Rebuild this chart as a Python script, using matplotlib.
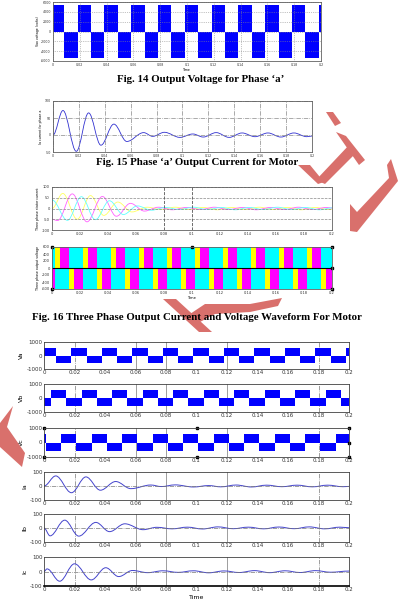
import matplotlib
matplotlib.use('Agg')
import matplotlib.pyplot as plt
from matplotlib.path import Path
from matplotlib.patches import PathPatch, Polygon

# ---- data ----
time_ticks = [0, 0.02, 0.04, 0.06, 0.08, 0.1, 0.12, 0.14, 0.16, 0.18, 0.2]
time_labels = ['0', '0.02', '0.04', '0.06', '0.08', '0.1', '0.12', '0.14', '0.16', '0.18', '0.2']

# Fig 14: phase 'a' voltage, switching instants (starts positive)
f14_edges = [0.0084, 0.0184, 0.0284, 0.0384, 0.0484, 0.0584, 0.0684, 0.0784, 0.0884, 0.0984,
             0.1084, 0.1184, 0.1284, 0.1384, 0.1484, 0.1584, 0.1684, 0.1784, 0.1884, 0.1984]
f14_level = 5400
f14_yticks = [-6000, -4000, -2000, 0, 2000, 4000, 6000]

# Fig 15 / Ia: extrema of the phase current
ia_t = [0, 0.0077, 0.018, 0.0275, 0.037, 0.047, 0.057, 0.070, 0.077, 0.086, 0.098,
        0.108, 0.116, 0.126, 0.136, 0.146, 0.156, 0.166, 0.176, 0.186, 0.196, 0.2]
ia_v = [0, 72, -48, 65, -30, 32, -19, 7, -4, 8, -7, 3, -6, 7, -7, 6, -5, 6, -6, 6, -5, -3]
ib_t = [0, 0.004, 0.0136, 0.0228, 0.034, 0.043, 0.053, 0.065, 0.074, 0.084, 0.094,
        0.104, 0.114, 0.124, 0.134, 0.144, 0.154, 0.164, 0.174, 0.184, 0.194, 0.2]
ib_v = [0, -56, 56, -58, 40, -26, 30, -12, 5, -6, 6, -7, 8, -5, 6, -6, 7, -5, 8, -6, 6, 2]
ic_t = [0, 0.002, 0.0103, 0.020, 0.031, 0.0405, 0.049, 0.058, 0.068, 0.078, 0.088,
        0.098, 0.108, 0.118, 0.128, 0.138, 0.148, 0.158, 0.168, 0.178, 0.188, 0.2]
ic_v = [0, 18, -67, 53, -58, 26, -35, 7, -8, 5, -6, 5, -9, 4, -7, 6, -8, 5, -7, 6, -5, 3]

# Fig 16: three phase currents (extrema)
cur_y_t = [0, 0.0077, 0.018, 0.0275, 0.037, 0.047, 0.057, 0.068, 0.078, 0.088, 0.098,
           0.108, 0.118, 0.128, 0.138, 0.148, 0.158, 0.168, 0.178, 0.188, 0.198, 0.2]
cur_y_v = [0, 70, -50, 60, -32, 30, -16, 6, -5, 6, -5, 5, -6, 5, -5, 6, -5, 5, -6, 5, -5, -3]
cur_m_t = [0, 0.004, 0.0145, 0.025, 0.036, 0.046, 0.056, 0.066, 0.076, 0.086, 0.096,
           0.106, 0.116, 0.126, 0.136, 0.146, 0.156, 0.166, 0.176, 0.186, 0.196, 0.2]
cur_m_v = [-50, -56, 68, -62, 56, -36, 24, -12, 6, -6, 5, -5, 6, -5, 5, -6, 5, -5, 6, -5, 5, 2]
cur_c_t = [0, 0.011, 0.021, 0.031, 0.041, 0.051, 0.061, 0.071, 0.081, 0.091, 0.101,
           0.111, 0.121, 0.131, 0.141, 0.151, 0.161, 0.171, 0.181, 0.191, 0.2]
cur_c_v = [40, -55, 55, -52, 36, -28, 12, -8, 5, -5, 6, -5, 5, -6, 5, -5, 6, -5, 5, -6, 3]

# Fig 16: three phase voltages, switching instants
v16_y_edges = [0.0087, 0.0187, 0.0287, 0.0387, 0.0487, 0.0587, 0.0687, 0.0787, 0.0887, 0.0987,
               0.1087, 0.1187, 0.1287, 0.1387, 0.1487, 0.1587, 0.1687, 0.1787, 0.1887, 0.1987]
v16_m_edges = [0.0054, 0.0154, 0.0254, 0.0354, 0.0454, 0.0554, 0.0654, 0.0754, 0.0854, 0.0954,
               0.1054, 0.1154, 0.1254, 0.1354, 0.1454, 0.1554, 0.1654, 0.1754, 0.1854, 0.1954]
v16_c_edges = [0.002, 0.012, 0.022, 0.032, 0.042, 0.052, 0.062, 0.072, 0.082, 0.092,
               0.102, 0.112, 0.122, 0.132, 0.142, 0.152, 0.162, 0.172, 0.182, 0.192]
v16_level = 590
v16_yticks = [-600, -400, -200, 0, 200, 400, 600]

# bottom figure: Va, Vb, Vc switching instants
va_edges = [0.008, 0.018, 0.028, 0.038, 0.048, 0.058, 0.068, 0.078, 0.088, 0.098,
            0.108, 0.118, 0.128, 0.138, 0.148, 0.158, 0.168, 0.178, 0.188, 0.198]
vb_edges = [0.0047, 0.0147, 0.0247, 0.0347, 0.0447, 0.0547, 0.0647, 0.0747, 0.0847, 0.0947,
            0.1047, 0.1147, 0.1247, 0.1347, 0.1447, 0.1547, 0.1647, 0.1747, 0.1847, 0.1947]
vc_edges = [0.0013, 0.0113, 0.0213, 0.0313, 0.0413, 0.0513, 0.0613, 0.0713, 0.0813, 0.0913,
            0.1013, 0.1113, 0.1213, 0.1313, 0.1413, 0.1513, 0.1613, 0.1713, 0.1813, 0.1913]
vabc_level = 560

W, H = 402, 616
fig = plt.figure(figsize=(W / 100, H / 100), dpi=100)


def add_ax(x0, y0, x1, y1):
    return fig.add_axes([x0 / W, 1 - y1 / H, (x1 - x0) / W, (y1 - y0) / H])


def step_fill(ax, first_sign, edges, level, color):
    t = [0.0] + list(edges) + [0.2]
    v = []
    s = first_sign
    for _ in range(len(edges) + 1):
        v.append(s * level)
        s = -s
    v.append(v[-1])
    ax.fill_between(t, v, 0, step='post', color=color, lw=0)


def smooth(ax, ts, vs, color, lw=0.6):
    verts = [(ts[0], vs[0])]
    codes = [Path.MOVETO]
    for i in range(1, len(ts)):
        dt = ts[i] - ts[i - 1]
        verts += [(ts[i - 1] + 0.36 * dt, vs[i - 1]), (ts[i] - 0.36 * dt, vs[i]), (ts[i], vs[i])]
        codes += [Path.CURVE4] * 3
    ax.add_patch(PathPatch(Path(verts, codes), fill=False, edgecolor=color, lw=lw))


def style(ax, yticks, ylabels, fs, spine='#606060'):
    ax.set_xlim(0, 0.2)
    ax.set_xticks(time_ticks)
    ax.set_xticklabels(time_labels)
    ax.set_yticks(yticks)
    ax.set_yticklabels(ylabels)
    ax.tick_params(length=0, labelsize=fs, pad=1.5, colors='#333333')
    for s in ax.spines.values():
        s.set_linewidth(0.6)
        s.set_color(spine)


# ---- Fig 14 ----
ax = add_ax(53, 2, 321, 61)
step_fill(ax, 1, f14_edges, f14_level, '#0000ff')
ax.set_ylim(-6000, 6000)
style(ax, f14_yticks, [str(v) for v in f14_yticks], 2.3)
ax.grid(True, ls=':', lw=0.5, color='#888888')
ax.set_ylabel('Vao voltage (volts)', fontsize=2.3, labelpad=1)
ax.set_xlabel('Time', fontsize=2.3, labelpad=0.5)

# ---- Fig 15 ----
ax = add_ax(53, 101, 312, 152)
smooth(ax, ia_t, ia_v, '#3030d0', 0.6)
ax.set_ylim(-50, 100)
style(ax, [-50, 0, 50, 100], ['-50', '0', '50', '100'], 2.3)
ax.grid(True, ls='-.', lw=0.5, color='#888888')
ax.set_ylabel('Ia current for phase a', fontsize=2.3, labelpad=1)

# ---- Fig 16 currents ----
ax = add_ax(52, 187, 332, 230)
smooth(ax, cur_y_t, cur_y_v, '#ffff60', 0.6)
smooth(ax, cur_m_t, cur_m_v, '#ff60ff', 0.6)
smooth(ax, cur_c_t, cur_c_v, '#60ffff', 0.6)
ax.set_ylim(-100, 100)
style(ax, [-100, -50, 0, 50, 100], ['-100', '-50', '0', '50', '100'], 2.6)
ax.yaxis.grid(True, ls='--', lw=0.5, color='#888888')
ax.axvline(0.08, color='#555555', lw=0.6, ls='--')
ax.axvline(0.1, color='#555555', lw=0.6, ls='--')
ax.set_ylabel('Three phase stator current', fontsize=2.3, labelpad=1)

# ---- Fig 16 voltages ----
ax = add_ax(52, 247, 332, 289)
step_fill(ax, 1, v16_y_edges, v16_level, '#ffff00')
step_fill(ax, -1, v16_m_edges, v16_level, '#ff00ff')
step_fill(ax, 1, v16_c_edges, v16_level, '#00ffff')
ax.axhline(0, color='#000000', lw=0.8)
ax.set_ylim(-600, 600)
style(ax, v16_yticks, [str(v) for v in v16_yticks], 2.6)
for mx, my in [(0, 600), (0.1, 600), (0.2, 600), (0.2, 0), (0.2, -600), (0, -600)]:
    ax.plot(mx, my, 's', ms=1.6, color='black', clip_on=False)
ax.set_ylabel('Three phase output voltage', fontsize=2.3, labelpad=1)
ax.set_xlabel('Time', fontsize=2.6, labelpad=0.5)

# ---- bottom figure: Va Vb Vc Ia Ib Ic ----
panels = [(342, 369), (384, 412), (428, 457), (472, 500), (514, 542), (557, 586)]
names = ['Va', 'Vb', 'Vc', 'Ia', 'Ib', 'Ic']
for k, (y0, y1) in enumerate(panels):
    ax = add_ax(44, y0, 349, y1)
    if k < 3:
        edges = [va_edges, vb_edges, vc_edges][k]
        sign = [1, -1, 1][k]
        step_fill(ax, sign, edges, vabc_level, '#0000ff')
        ax.set_ylim(-1000, 1000)
        style(ax, [-1000, 0, 1000], ['-1000', '0', '1000'], 4, '#404040')
    else:
        ts, vs = [(ia_t, ia_v), (ib_t, ib_v), (ic_t, ic_v)][k - 3]
        ax.axhline(0, color='#777777', lw=0.5, ls='-.')
        smooth(ax, ts, vs, '#4444cc', 0.7)
        ax.set_ylim(-100, 100)
        style(ax, [-100, 0, 100], ['-100', '0', '100'], 4, '#404040')
    for gx, gs in [(0.02, '-.'), (0.06, '-'), (0.08, '-'), (0.12, '-'), (0.18, '-.')]:
        ax.axvline(gx, color='#777777', lw=0.5, ls=gs, zorder=0.5)
    ax.tick_params(labelsize=4, pad=1)
    ax.set_ylabel(names[k], fontsize=4.5, labelpad=2)
    if k == 2:
        for mx, my in [(0, 1000), (0, -1000), (0.1, 1000), (0.1, -1000), (0.2, 1000), (0.2, 0), (0.2, -1000)]:
            ax.plot(mx, my, 's', ms=1.8, color='black', clip_on=False)
    if k == 5:
        ax.spines['bottom'].set_linewidth(1.2)
        ax.spines['bottom'].set_color('black')
        ax.set_xlabel('Time', fontsize=4.5, labelpad=2)

# ---- red watermark ----
wm = [
    [(326, 112), (333, 112), (341, 123), (335, 126)],
    [(336, 132), (346, 136), (365, 160), (359, 165)],
    [(350, 144), (357, 152), (325, 184), (316, 180)],
    [(298, 165), (310, 165), (324, 182), (318, 184)],
    [(391, 159), (398, 181), (357, 232), (350, 231), (350, 204), (357, 212), (389, 178), (387, 165)],
    [(163, 299), (176, 299), (212, 332), (199, 332)],
    [(190, 314), (205, 304), (250, 304), (282, 298), (278, 306), (250, 312), (215, 314), (200, 322)],
    [(0, 423), (13, 406), (7, 427), (25, 453), (22, 467), (0, 447)],
]
for poly in wm:
    fig.add_artist(Polygon([(x / W, 1 - y / H) for x, y in poly], closed=True,
                           transform=fig.transFigure, color='#d9706c', lw=0, zorder=1))

# ---- captions ----
cap = dict(ha='center', va='center', fontsize=7.8, fontweight='bold',
           family='Liberation Serif', zorder=3)
fig.text(201 / W, 1 - 79 / H, "Fig. 14 Output Voltage for Phase \u2018a\u2019", **cap)
fig.text(197 / W, 1 - 162 / H, "Fig. 15 Phase \u2018a\u2019 Output Current for Motor", **cap)
fig.text(197 / W, 1 - 318 / H, "Fig. 16 Three Phase Output Current and Voltage Waveform For Motor", **cap)

fig.savefig('out.png', dpi=100, facecolor='white')
